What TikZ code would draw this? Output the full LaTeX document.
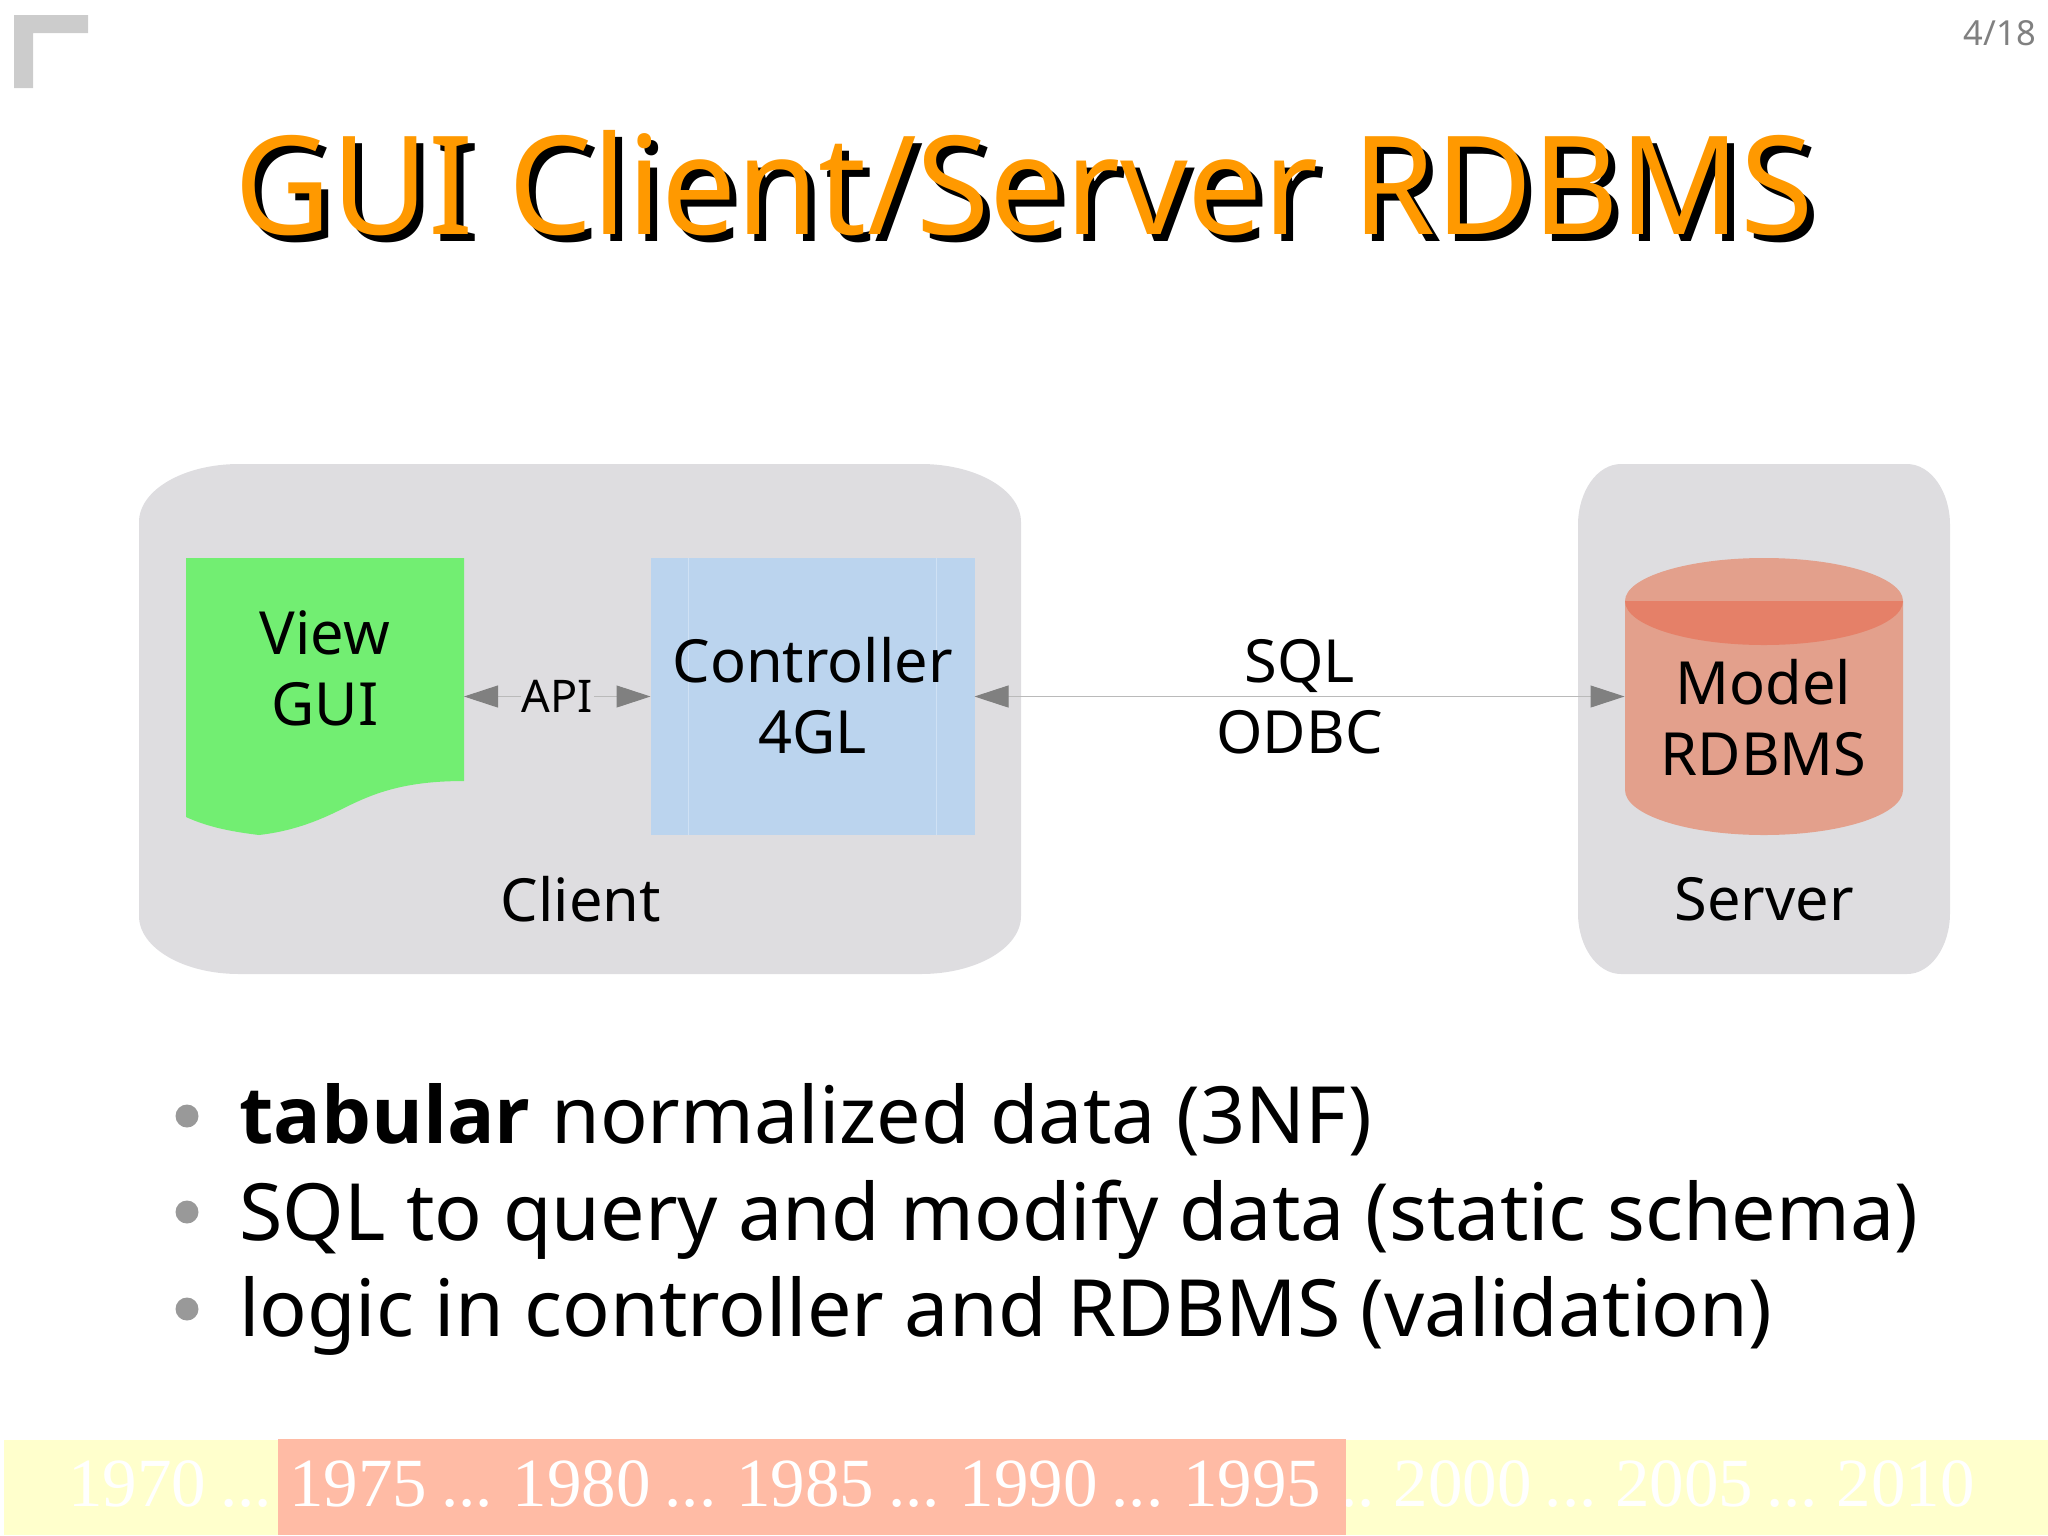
\documentclass[tikz,border=0pt]{standalone}
\usepackage{fontspec}
\setmainfont{Noto Sans}
\newfontfamily\yearfont{Liberation Serif}
\newfontfamily\titlefont[FakeStretch=0.973]{Noto Sans}
\newfontfamily\strongfont{Open Sans}
\usetikzlibrary{arrows.meta, positioning, calc}
\definecolor{panelgray}{HTML}{DEDDE0}
\definecolor{viewgreen}{HTML}{72EE72}
\definecolor{ctrlblue}{HTML}{BBD4EE}
\definecolor{ctrlline}{HTML}{CFE1F4}
\definecolor{dbsalmon}{HTML}{E3A08C}
\definecolor{dbdark}{HTML}{E58068}
\definecolor{titleorange}{HTML}{FF9900}
\definecolor{barnow}{HTML}{FFBBA5}
\definecolor{baryellow}{HTML}{FFFFCC}
\tikzset{
    blocktext/.style={inner sep=0pt, outer sep=0pt, align=center, font=\fontsize{59.5}{71.5}\selectfont},
    blockbox/.style={rectangle, inner sep=0pt, outer sep=0pt, minimum width=278pt, minimum height=277pt},
    bullettext/.style={inner sep=0pt, anchor=base west, font=\fontsize{79}{96}\selectfont},
    bulletdot/.style={circle, fill=black!40, inner sep=0pt, minimum size=23pt},
    titletext/.style={inner sep=0pt, font=\titlefont\fontsize{137}{137}\selectfont},
    yeartext/.style={inner sep=0pt, text=white, font=\yearfont\fontsize{69}{69}\selectfont},
    linkarrow/.style={draw=black!27, line width=1pt, {Triangle[length=34pt,width=22pt,color=black!50]}-{Triangle[length=34pt,width=22pt,color=black!50]}},
}
\begin{document}
\begin{tikzpicture}[x=1pt,y=-1pt]
    \useasboundingbox (0,0) rectangle (2048,1535);

% Corner mark and page number
\fill[black!20] (14,15) -- (88,15) -- (88,33) -- (33,33) -- (33,88) -- (14,88) -- cycle;
\node[anchor=east, inner sep=0pt, text=black!50, font=\fontsize{34.5}{36}\selectfont] (pagenum) at (2036,33) {4/18};

% Title
\node[titletext, text=black] (titleshadow) at (1031,190) {GUI Client/Server RDBMS};
\node[titletext, text=titleorange] (title) at (1024,183) {GUI Client/Server RDBMS};

% Panels
\fill[panelgray] (139,522) arc[start angle=180, end angle=90, x radius=100pt, y radius=58pt] -- (921,464)
    arc[start angle=90, end angle=0, x radius=100pt, y radius=58pt] -- (1021,916)
    arc[start angle=0, end angle=-90, x radius=100pt, y radius=58pt] -- (239,974)
    arc[start angle=270, end angle=180, x radius=100pt, y radius=58pt] -- cycle;
\fill[panelgray] (1578,525) arc[start angle=180, end angle=90, x radius=43pt, y radius=61pt] -- (1907,464)
    arc[start angle=90, end angle=0, x radius=43pt, y radius=61pt] -- (1950,913)
    arc[start angle=0, end angle=-90, x radius=43pt, y radius=61pt] -- (1621,974)
    arc[start angle=270, end angle=180, x radius=43pt, y radius=61pt] -- cycle;

% View page
\fill[viewgreen] (186,558) -- (464,558) -- (464,781)
    .. controls (400,781) and (370,795) .. (340,810)
    .. controls (310,825) and (285,832) .. (259,835)
    .. controls (235,832) and (210,828) .. (186,817) -- cycle;

% Database
\fill[dbsalmon] (1625,601) arc[start angle=180, end angle=0, x radius=139pt, y radius=43pt] -- (1903,790)
    arc[start angle=0, end angle=-180, x radius=139pt, y radius=45pt] -- cycle;
\fill[dbdark] (1625,601) arc[start angle=180, end angle=360, x radius=139pt, y radius=44pt] -- cycle;

% Blocks
\node[blockbox] (view) at (325,696.5) {};
\node[blockbox, fill=ctrlblue, minimum width=324pt, right=186.5pt of view] (controller) {};
\node[blockbox, right=650pt of controller] (model) {};
\draw[ctrlline, line width=1pt] ($(controller.north west)+(37.5,0)$) -- ($(controller.south west)+(37.5,0)$);
\draw[ctrlline, line width=1pt] ($(controller.north east)+(-38.5,0)$) -- ($(controller.south east)+(-38.5,0)$);
\node[blocktext] (viewlabel) at ($(view.center)+(0,-28)$) {View\\GUI};
\node[blocktext] (controllerlabel) at ($(controller.center)+(0,-1)$) {Controller\\4GL};
\node[blocktext] (modellabel) at ($(model.center)+(0,21)$) {Model\\RDBMS};
\node[blocktext] (clientlabel) at (581,899) {Client};
\node[blocktext] (serverlabel) at (1764,899) {Server};

% Links
\draw[linkarrow] (view.east) -- node[fill=panelgray, inner sep=1pt, font=\fontsize{45}{45}\selectfont] (api) {API} (controller.west);
\draw[linkarrow] (controller.east) -- node[blocktext] (sql) {SQL\\ODBC} (model.west);

% Bullets
\node[bullettext] (item1) at (239,1143) {{\strongfont\bfseries tabular} normalized data (3NF)};
\node[bullettext] (item2) at (239,1240) {SQL to query and modify data (static schema)};
\node[bullettext] (item3) at (239,1336) {logic in controller and RDBMS (validation)};
\node[bulletdot] (dot1) at (187,1116) {};
\node[bulletdot] (dot2) at (187,1212) {};
\node[bulletdot] (dot3) at (187,1309) {};

% Timeline
\fill[baryellow] (4,1440) rectangle (2048,1535);
\node[yeartext, anchor=base west] (yearsbefore) at (68,1506) {\spaceskip=14pt 1970 ...};
\node[yeartext, anchor=base east] (yearsafter) at (1975,1506) {\spaceskip=13pt ... 2000 ... 2005 ... 2010};
\fill[barnow] (278,1439) rectangle (1346,1535);
\node[yeartext, anchor=base west] (yearsnow) at (289,1506) {\spaceskip=14pt 1975 ... 1980 ... 1985 ... 1990 ... 1995};

\end{tikzpicture}
\end{document}
